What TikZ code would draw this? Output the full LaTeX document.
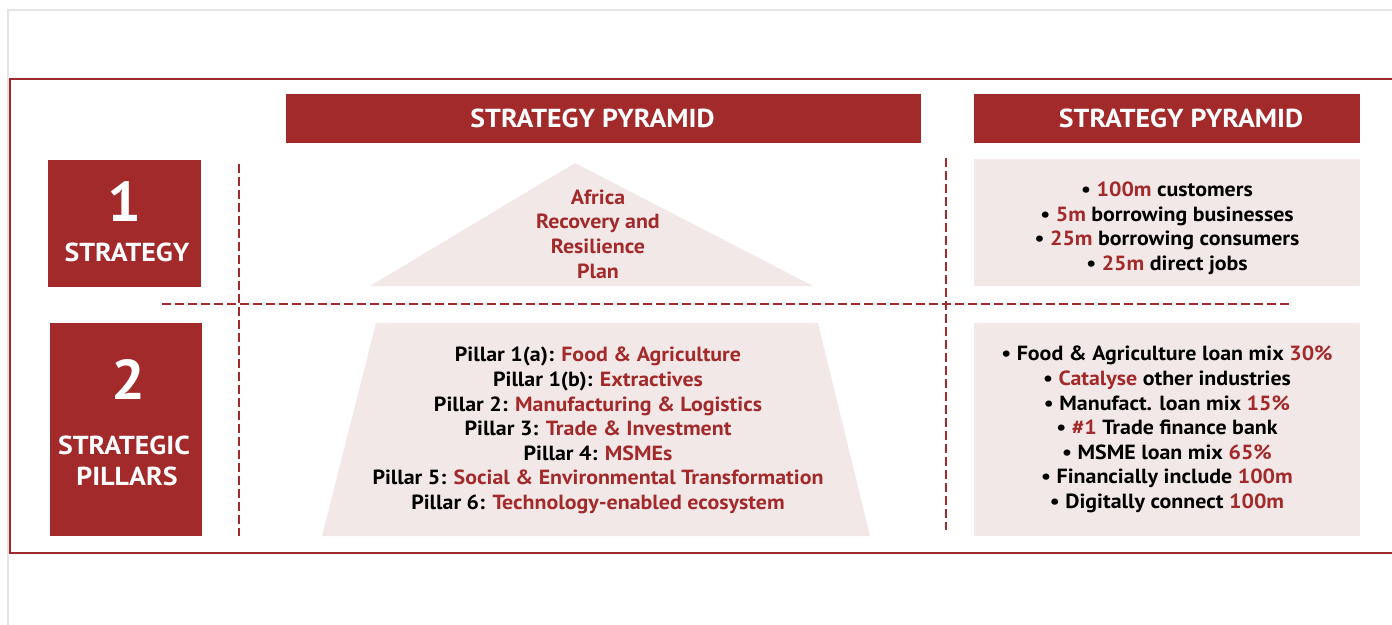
\documentclass[tikz,border=0pt]{standalone}
\usepackage{fontspec}
\setmainfont{PT Sans}[FakeStretch=1.07]
\definecolor{afred}{HTML}{A22A2B}
\definecolor{afpink}{HTML}{F3E8E8}
\newcommand{\redtxt}[1]{\textcolor{afred}{#1}}
\begin{document}
\begin{tikzpicture}[x=1pt,y=-1pt,
  every node/.style={inner sep=0pt,align=center,font=\bfseries},
  bar/.style={fill=afred,text=white,font=\fontsize{26}{26}\selectfont\bfseries},
  panel/.style={fill=afpink,minimum width=386pt,font=\fontsize{20.5}{24.6}\selectfont\bfseries},
  divider/.style={afred,line width=2.8pt,dash pattern=on 9pt off 4pt}]
  \useasboundingbox (0,0) rectangle (1392,624);
  \draw[black!10,line width=1.5pt] (1400,10) -- (8,10) -- (8,630);
  \draw[afred,line width=1.5pt] (1400,79) -- (10,79) -- (10,553) -- (1400,553);
  % headers
  \node[bar,minimum width=635pt,minimum height=49pt] (pyramidhead) at (603.5,118.5) {\hspace*{-22pt}STRATEGY PYRAMID};
  \node[bar,minimum width=386pt,minimum height=49pt] (targethead) at (1167,118.5) {\hspace*{28pt}STRATEGY PYRAMID};
  % levels
  \node[bar,minimum width=153pt,minimum height=127pt] (one) at (124.5,223.5) {};
  \node[text=white,font=\fontsize{56}{56}\selectfont\bfseries] (onenum) at (124,202) {1};
  \node[text=white,font=\fontsize{26}{26}\selectfont\bfseries] (onetxt) at (127,252) {STRATEGY};
  \node[bar,minimum width=152pt,minimum height=213pt] (two) at (126,429.5) {};
  \node[text=white,font=\fontsize{56}{56}\selectfont\bfseries] (twonum) at (128,380) {2};
  \node[text=white,font=\fontsize{26}{31}\selectfont\bfseries] (twotxt) at (124,461) {STRATEGIC\\\hspace*{6pt}PILLARS};
  % dividers
  \draw[divider] (239,164) -- (239,536);
  \draw[divider] (946,158) -- (946,530);
  \draw[divider] (162,304) -- (1290,304);
  % pyramid
  \fill[afpink] (575,163) -- (813,286) -- (370,286) -- cycle;
  \node[text=afred,font=\fontsize{20.5}{24.6}\selectfont\bfseries] (plan) at (598,234) {Africa\\Recovery and\\Resilience\\Plan};
  \fill[afpink] (376,323) -- (818,323) -- (870,536) -- (322,536) -- cycle;
  \node[font=\fontsize{20.5}{24.6}\selectfont\bfseries] (pillars) at (598,430.5) {%
    Pillar 1(a): \redtxt{Food \& Agriculture}\\
    Pillar 1(b): \redtxt{Extractives}\\
    Pillar 2: \redtxt{Manufacturing \& Logistics}\\
    Pillar 3: \redtxt{Trade \& Investment}\\
    Pillar 4: \redtxt{MSMEs}\\
    Pillar 5: \redtxt{Social \& Environmental Transformation}\\
    Pillar 6: \redtxt{Technology-enabled ecosystem}};
  % targets
  \node[panel,minimum height=127pt] (goals) at (1167,222.5) {};
  \node[font=\fontsize{20.5}{24.6}\selectfont\bfseries] (goalstext) at (1167,228.5) {%
    \textbullet{} \redtxt{100m} customers\\
    \textbullet{} \redtxt{5m} borrowing businesses\\
    \textbullet{} \redtxt{25m} borrowing consumers\\
    \textbullet{} \redtxt{25m} direct jobs};
  \node[panel,minimum height=213pt] (mix) at (1167,429.5) {%
    \textbullet{} Food \& Agriculture loan mix \redtxt{30\%}\\
    \textbullet{} \redtxt{Catalyse} other industries\\
    \textbullet{} Manufact. loan mix \redtxt{15\%}\\
    \textbullet{} \redtxt{\#1} Trade finance bank\\
    \textbullet{} MSME loan mix \redtxt{65\%}\\
    \textbullet{} Financially include \redtxt{100m}\\
    \textbullet{} Digitally connect \redtxt{100m}};
\end{tikzpicture}
\end{document}
